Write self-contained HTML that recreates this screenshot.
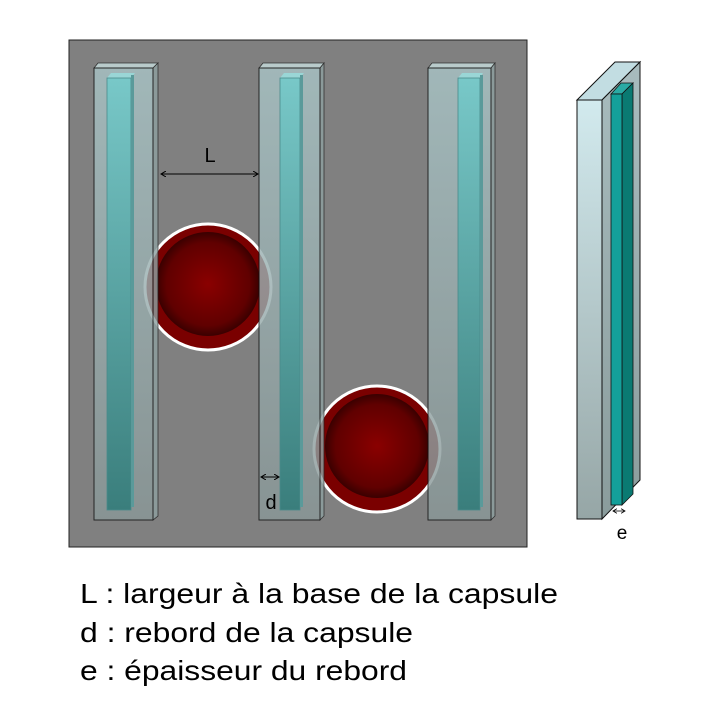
<!DOCTYPE html>
<html><head><meta charset="utf-8"><style>
html,body{margin:0;padding:0;background:#fff;width:707px;height:720px;overflow:hidden}
</style></head><body>
<svg width="707" height="720" viewBox="0 0 707 720" xmlns="http://www.w3.org/2000/svg">
<defs>
<linearGradient id="pg" x1="0" y1="0" x2="0" y2="1"><stop offset="0" stop-color="#a9c4c6"/><stop offset="1" stop-color="#8a9898"/></linearGradient>
<linearGradient id="tg" x1="0" y1="0" x2="0" y2="1"><stop offset="0" stop-color="#78c8c8"/><stop offset="1" stop-color="#3a7e7c"/></linearGradient>
<radialGradient id="rg" cx="0.5" cy="0.5" r="0.5"><stop offset="0" stop-color="#8a0000"/><stop offset="0.8" stop-color="#600000"/><stop offset="1" stop-color="#3a0000"/></radialGradient>
<linearGradient id="fg" x1="0" y1="0" x2="0" y2="1"><stop offset="0" stop-color="#d2eaee"/><stop offset="1" stop-color="#96a6a6"/></linearGradient>
<linearGradient id="sg" x1="0" y1="0" x2="0" y2="1"><stop offset="0" stop-color="#a8bcbe"/><stop offset="1" stop-color="#8a9c9c"/></linearGradient>
<marker id="a" markerWidth="6" markerHeight="6" refX="5" refY="3" orient="auto-start-reverse"><path d="M0,0 L5,3 L0,6" fill="none" stroke="#000" stroke-width="1"/></marker>
</defs>
<rect x="69" y="40" width="458" height="507" fill="#808080" stroke="#222" stroke-width="1"/>
<g>
<circle cx="208" cy="287" r="63" fill="#7a0000" stroke="#fff" stroke-width="3"/>
<circle cx="208" cy="284" r="52" fill="url(#rg)"/>
<circle cx="377" cy="449" r="63" fill="#7a0000" stroke="#fff" stroke-width="3"/>
<circle cx="377" cy="446" r="52" fill="url(#rg)"/>
</g>
<g opacity="0.82">
<polygon points="94,68 98,63 158,63 153,68" fill="#c6dcdc" stroke="#222" stroke-width="0.8"/>
<polygon points="153,68 158,63 158,516 153,520" fill="#8ea0a0" stroke="#222" stroke-width="0.8"/>
<rect x="94" y="68" width="59" height="452" fill="url(#pg)" stroke="#111" stroke-width="1"/>
<polygon points="259,68 263,63 324,63 320,68" fill="#c6dcdc" stroke="#222" stroke-width="0.8"/>
<polygon points="320,68 324,63 324,516 320,520" fill="#8ea0a0" stroke="#222" stroke-width="0.8"/>
<rect x="259" y="68" width="61" height="452" fill="url(#pg)" stroke="#111" stroke-width="1"/>
<polygon points="428,68 432,63 495,63 491,68" fill="#c6dcdc" stroke="#222" stroke-width="0.8"/>
<polygon points="491,68 495,63 495,516 491,520" fill="#8ea0a0" stroke="#222" stroke-width="0.8"/>
<rect x="428" y="68" width="63" height="452" fill="url(#pg)" stroke="#111" stroke-width="1"/>
</g>
<g>
<polygon points="107,78 111,73 135,73 131,78" fill="#9ad6d6"/>
<rect x="107" y="78" width="24" height="432" fill="url(#tg)" stroke="#4a8a8a" stroke-width="0.8"/>
<rect x="131" y="75" width="3" height="432" fill="#5a9a9a"/>
<polygon points="280,78 284,73 304,73 300,78" fill="#9ad6d6"/>
<rect x="280" y="78" width="20" height="432" fill="url(#tg)" stroke="#4a8a8a" stroke-width="0.8"/>
<rect x="300" y="75" width="3" height="432" fill="#5a9a9a"/>
<polygon points="458,78 462,73 483,73 480,78" fill="#9ad6d6"/>
<rect x="458" y="78" width="22" height="432" fill="url(#tg)" stroke="#4a8a8a" stroke-width="0.8"/>
<rect x="480" y="75" width="3" height="432" fill="#5a9a9a"/>
</g>
<line x1="161" y1="174" x2="258" y2="174" stroke="#000" stroke-width="1" marker-start="url(#a)" marker-end="url(#a)"/>
<text x="210" y="162" font-family="Liberation Sans, sans-serif" font-size="20" text-anchor="middle">L</text>
<line x1="261" y1="477" x2="279" y2="477" stroke="#000" stroke-width="1" marker-start="url(#a)" marker-end="url(#a)"/>
<text x="271" y="509" font-family="Liberation Sans, sans-serif" font-size="20" text-anchor="middle">d</text>
<polygon points="577,100 615,62 640,62 602,100" fill="#c2dde2" stroke="#111" stroke-width="1"/>
<polygon points="602,100 640,62 640,480 602,519" fill="url(#sg)" stroke="#111" stroke-width="1"/>
<polygon points="611,94 621,83 633,83 622,94" fill="#2aaaa4" stroke="#111" stroke-width="0.8"/>
<polygon points="622,94 633,83 633,494 622,505" fill="#0a7a72" stroke="#111" stroke-width="0.8"/>
<rect x="611" y="94" width="11" height="411" fill="#14a09a" stroke="#111" stroke-width="0.8"/>
<rect x="577" y="100" width="25" height="419" fill="url(#fg)" stroke="#111" stroke-width="1"/>
<line x1="613" y1="511" x2="625" y2="511" stroke="#000" stroke-width="0.8" marker-start="url(#a)" marker-end="url(#a)"/>
<text x="622" y="539" font-family="Liberation Sans, sans-serif" font-size="19" text-anchor="middle">e</text>
<g font-family="Liberation Sans, sans-serif" font-size="28" fill="#000">
<text x="80" y="603" textLength="478" lengthAdjust="spacingAndGlyphs">L : largeur à la base de la capsule</text>
<text x="80" y="642" textLength="333" lengthAdjust="spacingAndGlyphs">d : rebord de la capsule</text>
<text x="80" y="680" textLength="327" lengthAdjust="spacingAndGlyphs">e : épaisseur du rebord</text>
</g>
</svg>
</body></html>
